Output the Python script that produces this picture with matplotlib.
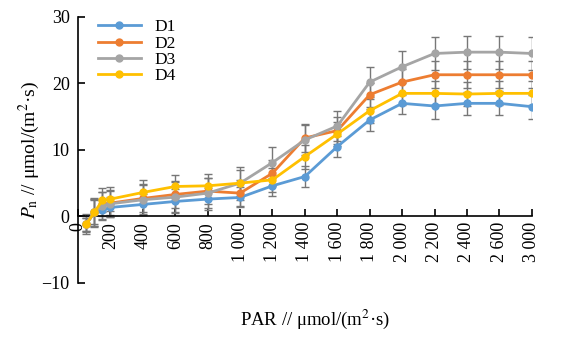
import matplotlib as mpl

mpl.use('Agg')
import matplotlib.pyplot as plt

plt.rcParams['font.family'] = ['Liberation Serif', 'DejaVu Serif']
plt.rcParams['mathtext.fontset'] = 'stix'

# x positions as drawn on the axis (last category "3 000" sits one step after 2 600)
par_pos = [50, 100, 150, 200, 400, 600, 800, 1000, 1200, 1400, 1600,
           1800, 2000, 2200, 2400, 2600, 2800]
tick_pos = [0, 200, 400, 600, 800, 1000, 1200, 1400, 1600, 1800, 2000,
            2200, 2400, 2600, 2800]
tick_labels = ["0", "200", "400", "600", "800", "1 000", "1 200", "1 400",
               "1 600", "1 800", "2 000", "2 200", "2 400", "2 600", "3 000"]

d1 = [-1.2, 0.6, 0.9, 1.35, 1.8, 2.25, 2.6, 2.85, 4.6, 6.0, 10.5,
      14.5, 17.0, 16.6, 17.0, 17.0, 16.5]
d2 = [-1.2, 0.6, 1.8, 2.0, 2.7, 3.3, 3.8, 3.5, 6.5, 11.8, 12.9,
      18.3, 20.2, 21.3, 21.3, 21.3, 21.3]
d3 = [-1.2, 0.6, 1.6, 1.9, 2.5, 2.9, 3.5, 5.0, 8.1, 11.5, 13.6,
      20.2, 22.5, 24.5, 24.7, 24.7, 24.5]
d4 = [-1.2, 0.6, 2.4, 2.6, 3.6, 4.5, 4.6, 5.0, 5.5, 9.0, 12.4,
      15.9, 18.5, 18.5, 18.4, 18.5, 18.5]

e1 = [1.0, 2.0, 1.5, 1.5, 1.5, 1.8, 1.7, 1.5, 1.6, 1.6, 1.6,
      1.6, 1.6, 2.0, 1.7, 1.8, 1.8]
e2 = [1.2, 2.0, 1.8, 1.8, 2.0, 2.0, 2.0, 2.0, 2.0, 2.1, 2.0,
      1.8, 2.0, 2.0, 2.0, 2.0, 2.0]
e3 = [1.5, 2.2, 2.0, 2.0, 2.3, 2.3, 2.3, 2.5, 2.4, 2.2, 2.2,
      2.3, 2.4, 2.5, 2.5, 2.5, 2.5]
e4 = [1.0, 1.8, 1.8, 1.8, 1.8, 1.8, 1.8, 2.0, 1.8, 1.8, 1.8,
      1.8, 1.8, 1.8, 1.8, 1.8, 1.8]

series = [("D1", d1, e1, "#5B9BD5"), ("D2", d2, e2, "#ED7D31"),
          ("D3", d3, e3, "#A5A5A5"), ("D4", d4, e4, "#FFC000")]

fig = plt.figure(figsize=(5.78, 3.38), dpi=100)
ax = fig.add_axes([0.135, 0.163, 0.785, 0.787])

ax.spines['top'].set_visible(False)
ax.spines['right'].set_visible(False)
ax.spines['bottom'].set_position(('data', 0))
for s in ['left', 'bottom']:
    ax.spines[s].set_linewidth(1.2)

for name, y, err, c in series:
    ax.errorbar(par_pos, y, yerr=err, fmt='none', ecolor='#777777',
                elinewidth=1, capsize=3, capthick=1, zorder=2)
for name, y, err, c in series:
    ax.plot(par_pos, y, color=c, lw=2, marker='o', ms=5, label=name, zorder=3)

ax.set_xlim(0, 2800)
ax.set_ylim(-10, 30)
ax.set_yticks([-10, 0, 10, 20, 30])
ax.set_yticklabels(["\u221210", "0", "10", "20", "30"])
ax.set_xticks(tick_pos)
ax.set_xticklabels(tick_labels, rotation=90, va='top', ha='center')

ax.tick_params(axis='both', direction='in', length=5, width=1.2, labelsize=13)
ax.tick_params(axis='x', pad=4)
ax.tick_params(axis='y', pad=6)

ax.set_ylabel(r'$P_{\mathrm{n}}$ // μmol/(m$^{2}$·s)', fontsize=14, labelpad=0)
fig.text(0.545, 0.04, 'PAR // μmol/(m$^{2}$·s)', ha='center', fontsize=13.5)

ax.legend(loc='upper left', bbox_to_anchor=(0.02, 1.03), frameon=False,
          fontsize=12.5, handlelength=2.5, labelspacing=0.0, borderaxespad=0.2)

plt.savefig('out.png', dpi=100, facecolor='white')
plt.close()
